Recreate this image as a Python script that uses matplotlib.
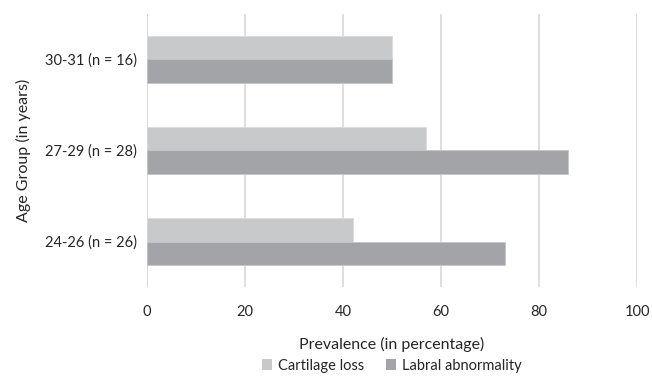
import numpy as np
import matplotlib.pyplot as plt
from matplotlib.patches import Patch

# data
groups = ['24-26 (n = 26)', '27-29 (n = 28)', '30-31 (n = 16)']
cartilage_loss = [42, 57, 50]
labral_abnormality = [73, 86, 50]
xticks = [0, 20, 40, 60, 80, 100]

LIGHT = '#C8C9CB'
DARK = '#A3A4A7'
TEXT = '#262626'

plt.rcParams['font.family'] = ['Lato', 'DejaVu Sans']

fig = plt.figure(figsize=(6.52, 3.77), dpi=100, facecolor='white')
ax = fig.add_axes([0.2255, 0.2387, 0.7515, 0.7242])

y = np.arange(len(groups))
h = 0.257
ax.barh(y + h / 2, cartilage_loss, height=h, color=LIGHT,
        edgecolor='#DADBDC', linewidth=0.6, zorder=2)
ax.barh(y - h / 2, labral_abnormality, height=h, color=DARK,
        edgecolor='#C4C5C7', linewidth=0.6, zorder=2)

ax.set_xlim(0, 100)
ax.set_ylim(-0.5, 2.5)
ax.set_xticks(xticks)
ax.set_yticks(y)
ax.set_yticklabels(groups)
ax.tick_params(length=0, labelsize=10.5, colors=TEXT, pad=7)
ax.tick_params(axis='x', pad=13)

ax.grid(axis='x', color='#D9D9D9', linewidth=1.2, zorder=0)
ax.set_axisbelow(True)
for s in ax.spines.values():
    s.set_visible(False)
ax.axvline(0, color='#D9D9D9', linewidth=1.4, zorder=1)

ax.set_xlabel('Prevalence (in percentage)', fontsize=11.5, color=TEXT, labelpad=13)
ax.set_ylabel('Age Group (in years)', fontsize=11.5, color=TEXT, labelpad=10)

handles = [Patch(facecolor=LIGHT, label='Cartilage loss'),
           Patch(facecolor=DARK, label='Labral abnormality')]
fig.legend(handles=handles, loc='center', bbox_to_anchor=(0.601, 0.03),
           ncol=2, frameon=False, fontsize=10.5, handlelength=0.7,
           handleheight=0.7, handletextpad=0.4, columnspacing=1.5,
           labelcolor=TEXT)

fig.savefig('out.png', dpi=100, facecolor='white')
